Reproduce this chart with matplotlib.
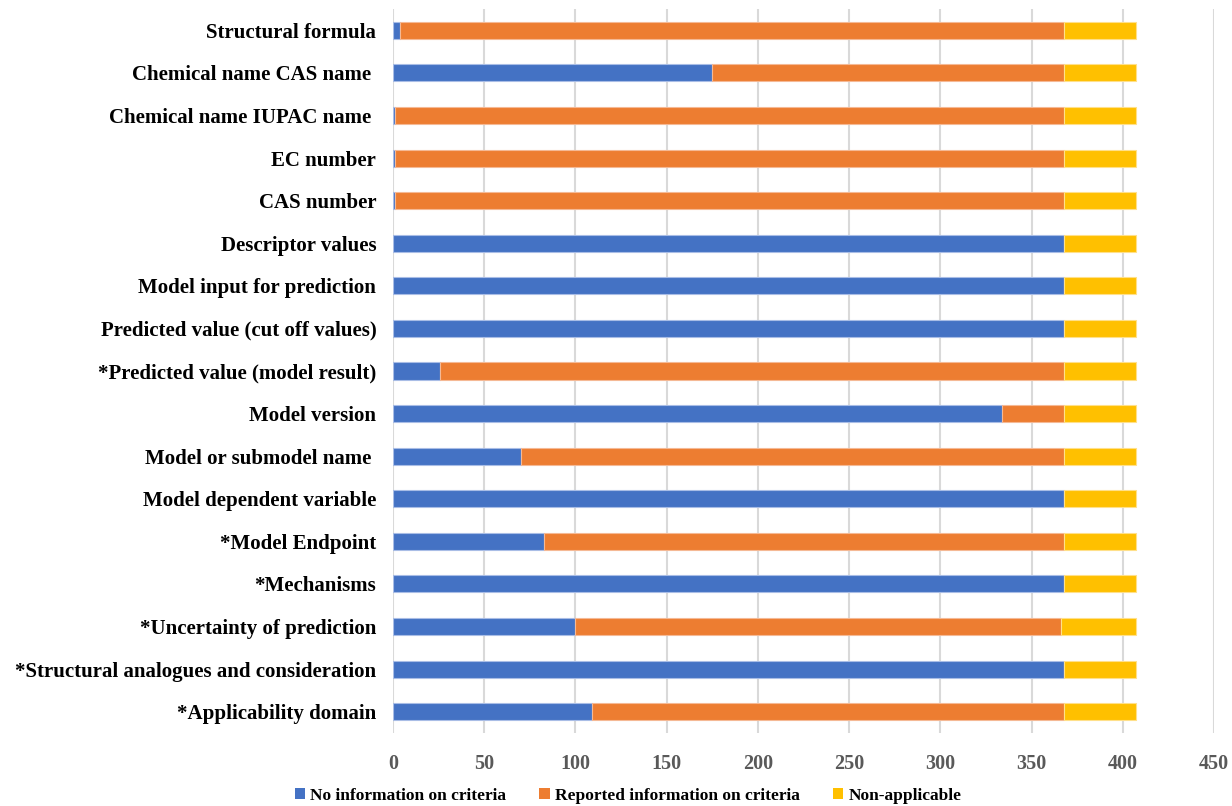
import matplotlib.pyplot as plt
import numpy as np
from matplotlib.patches import Patch

# criteria, listed bottom to top
criteria = [
    "*Applicability domain",
    "*Structural analogues and consideration",
    "*Uncertainty of prediction",
    "*Mechanisms",
    "*Model Endpoint",
    "Model dependent variable",
    "Model or submodel name ",
    "Model version",
    "*Predicted value (model result)",
    "Predicted value (cut off values)",
    "Model input for prediction",
    "Descriptor values",
    "CAS number",
    "EC number",
    "Chemical name IUPAC name ",
    "Chemical name CAS name ",
    "Structural formula",
]
no_info  = [109, 368, 100, 368, 83, 368, 70, 334, 26, 368, 368, 368, 1, 1, 1, 175, 4]
reported = [259, 0, 266, 0, 285, 0, 298, 34, 342, 0, 0, 0, 367, 367, 367, 193, 364]
non_appl = [39, 39, 41, 39, 39, 39, 39, 39, 39, 39, 39, 39, 39, 39, 39, 39, 39]

series = ["No information on criteria", "Reported information on criteria", "Non-applicable"]
colors = ["#4472C4", "#ED7D31", "#FFC000"]
edges  = ["#A9BDE6", "#F5B995", "#FFE08A"]

plt.rcParams['font.family'] = ['Liberation Serif', 'DejaVu Serif']

fig = plt.figure(figsize=(12.32, 8.06), dpi=100)
ax = fig.add_axes([393 / 1232, 1 - 733 / 806, (1214 - 393) / 1232, (733 - 9) / 806])

y = np.arange(len(criteria))
left = np.zeros(len(criteria))
for vals, c, ec in zip([no_info, reported, non_appl], colors, edges):
    vals = np.array(vals, dtype=float)
    ax.barh(y, vals, left=left, height=0.4, color=c, edgecolor=ec, linewidth=0.8, zorder=3)
    left += vals

ax.set_xlim(0, 450)
ax.set_ylim(-0.5, len(criteria) - 0.5)
ax.set_xticks(np.arange(0, 451, 50))
ax.set_yticks(y)
ax.set_yticklabels(criteria, fontsize=15, fontweight='bold', color='black')
ax.tick_params(axis='y', length=0, pad=12)
ax.tick_params(axis='x', length=0, pad=15, labelsize=14.5, labelcolor='#595959')
for lbl in ax.get_xticklabels():
    lbl.set_fontweight('bold')
ax.grid(axis='x', color='#D9D9D9', linewidth=1.5, zorder=0)
for s in ax.spines.values():
    s.set_visible(False)

handles = [Patch(facecolor=c, edgecolor='none') for c in colors]
fig.legend(handles, series, loc='center', bbox_to_anchor=(628 / 1232, 1 - 796 / 806),
           ncol=3, frameon=False, prop={'weight': 'bold', 'size': 12.5},
           handlelength=0.6, handleheight=0.6, handletextpad=0.3, columnspacing=1.9)

fig.savefig("out.png", dpi=100)
